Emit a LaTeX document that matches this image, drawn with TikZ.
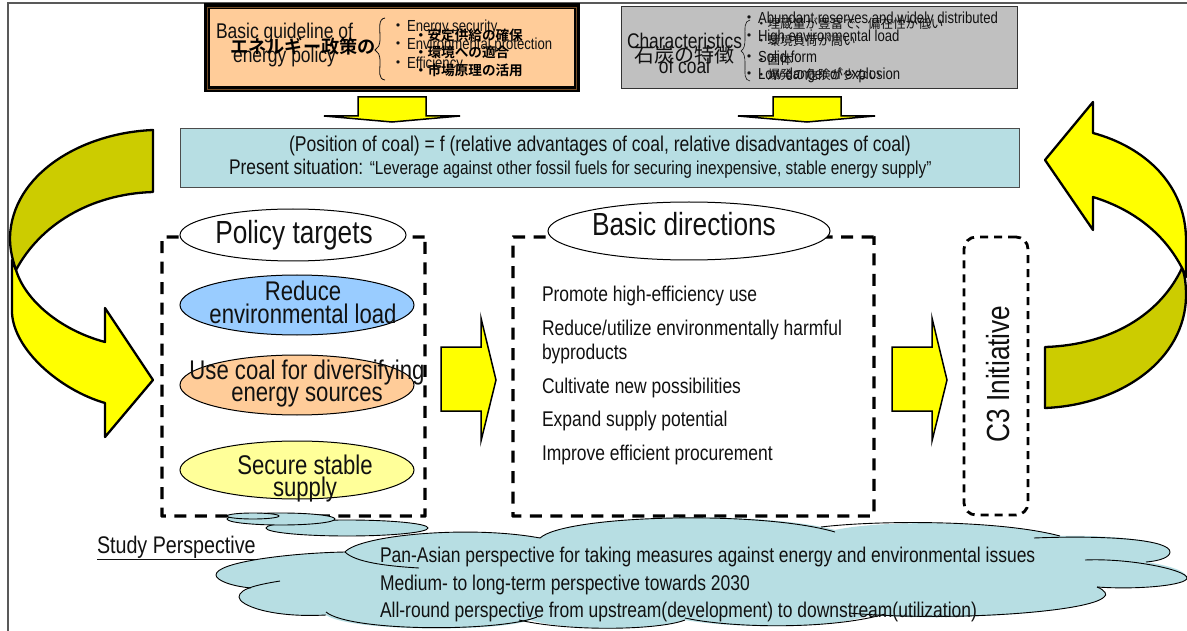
\documentclass[tikz,border=0pt]{standalone}
\usepackage{fontspec}
\setmainfont{Liberation Sans}[FakeStretch=0.82]
\newfontfamily\cjkb{Noto Sans CJK JP Bold}
\newfontfamily\cjkr{Noto Sans CJK JP}
\newcommand{\fs}[1]{\fontsize{#1}{#1}\selectfont}
\newcommand{\dotl}{\llap{{\cjkr ・}\hspace{1pt}}}
\definecolor{teal1}{HTML}{B7DEE3}
\definecolor{orange1}{HTML}{FFCC99}
\definecolor{gray1}{HTML}{C0C0C0}
\definecolor{blue1}{HTML}{99CCFF}
\definecolor{ylw1}{HTML}{FFFF99}
\definecolor{ylw}{HTML}{FFFF00}
\definecolor{dark1}{HTML}{CCCC00}
\definecolor{txt}{HTML}{111111}
\tikzset{
 lbl/.style={inner sep=0pt,outer sep=0pt,text=txt},
 blockarrow/.style={draw=black,fill=ylw,line width=1.5pt,line join=miter},
 curved/.style={draw=black,line width=2.3pt,line join=round},
 dashbox/.style={draw=black,line width=3.4pt,dash pattern=on 12pt off 8.5pt,rounded corners=0.4pt},
 dashbox2/.style={draw=black,line width=2.8pt,dash pattern=on 8pt off 6pt,rounded corners=12pt},
 oval/.style={draw=black,line width=1pt},
 cloudline/.style={draw=black,line width=0.9pt},
}
\begin{document}
\begin{tikzpicture}[x=1pt,y=-1pt]
\useasboundingbox (0,0) rectangle (1187,631);
\fill[white] (0,0) rectangle (1187,631);
% frame
\draw[draw=black!65,line width=1.2pt] (8,631) -- (8,3) -- (1187,3);
% big curved arrows
\path[curved,fill=ylw] (12,260) -- (12,313) .. controls (14,350) and (60,390) .. (105,403) -- (105,437) -- (153,380) -- (105,308) -- (105,342) .. controls (60,330) and (25,300) .. (16,270) -- cycle;
\path[curved,fill=dark1] (153,130) .. controls (80,133) and (12,175) .. (10,237) .. controls (10,247) and (11,255) .. (16,270) .. controls (40,225) and (90,194) .. (153,192) -- cycle;
\path[curved,fill=ylw] (1045,160) -- (1093,102) -- (1093,133) .. controls (1145,147) and (1186,185) .. (1186,240) -- (1186,277) -- (1182,268) .. controls (1165,235) and (1135,210) .. (1093,197) -- (1093,230) -- cycle;
\path[curved,fill=dark1] (1045,347) .. controls (1110,345) and (1160,315) .. (1182,268) .. controls (1185,275) and (1186,285) .. (1186,295) .. controls (1186,360) and (1120,405) .. (1045,408) -- cycle;
% top boxes
\draw[draw=black,fill=black,line width=0pt] (204,4) rectangle (579,92);
\draw[draw=brown!60!black,fill=black,line width=0.8pt] (207,7) rectangle (576,89);
\draw[draw=black,fill=orange1,line width=1pt] (209,9) rectangle (574,87);
\draw[draw=black!80,fill=gray1,line width=1pt] (621,7) rectangle (1017,89);
% small down arrows
\path[blockarrow] (358,97) -- (426,97) -- (426,116) -- (460,116) -- (392,122) -- (324,116) -- (358,116) -- cycle;
\path[blockarrow] (773,97) -- (841,97) -- (841,116) -- (875,116) -- (807,122) -- (738,116) -- (773,116) -- cycle;
% teal box
\node[draw=black!70,fill=teal1,line width=0.8pt,minimum width=839pt,minimum height=59pt,inner sep=0pt] (pos) at (599.5,157.5) {};
\node[lbl] (t1) at (600,146) {\fs{21.4}(Position of coal) = f (relative advantages of coal, relative disadvantages of coal)};
\node[lbl,anchor=west] (t2) at (229,169) {\fs{21.2}Present situation: \fs{18.7}“Leverage against other fossil fuels for securing inexpensive, stable energy supply”};
% dashed boxes
\node[dashbox,minimum width=263pt,minimum height=279pt,inner sep=0pt] (pb) at (293.5,376.5) {};
\node[dashbox,minimum width=361pt,minimum height=279pt,inner sep=0pt] (bb) at (693.5,376.5) {};
\node[dashbox2,minimum width=64pt,minimum height=278pt,inner sep=0pt] (cb) at (996,376) {};
% block arrows
\path[blockarrow] (441,347) -- (481,347) -- (481,318) -- (496,380) -- (481,441) -- (481,411) -- (441,411) -- cycle;
\path[blockarrow] (892,347) -- (932,347) -- (932,318) -- (947,380) -- (932,441) -- (932,411) -- (892,411) -- cycle;
% ovals
\draw[oval,fill=white] (293,235) ellipse [x radius=113,y radius=26];
\draw[oval,fill=white] (689,231) ellipse [x radius=141,y radius=29];
\draw[oval,fill=blue1] (297,305) ellipse [x radius=117,y radius=30];
\draw[oval,fill=orange1] (297,385) ellipse [x radius=117,y radius=30];
\draw[oval,fill=ylw1] (297,470) ellipse [x radius=117,y radius=29];
% cloud tail
\draw[cloudline,fill=teal1] (347,528) ellipse [x radius=81,y radius=8];
\draw[cloudline,fill=teal1] (281,519) ellipse [x radius=54,y radius=6];
\draw[cloudline,fill=teal1] (253,516) ellipse [x radius=26,y radius=3];
% cloud
\fill[teal1] (345,552) .. controls (360,535) and (470,525) .. (540,538) .. controls (565,515) and (760,510) .. (835,530) .. controls (880,520) and (1000,520) .. (1060,536) .. controls (1110,535) and (1170,540) .. (1170,552) .. controls (1170,557) and (1160,561) .. (1146,562) .. controls (1165,565) and (1187,570) .. (1187,578) .. controls (1187,585) and (1140,590) .. (1097,587) .. controls (1105,590) and (1108,595) .. (1104,597) .. controls (1090,612) and (950,622) .. (870,615) .. controls (830,630) and (730,628) .. (685,620) .. controls (660,630) and (570,632) .. (530,620) .. controls (500,632) and (350,632) .. (326,615) .. controls (270,618) and (239,605) .. (239,597) .. controls (239,594) and (243,591) .. (251,588) .. controls (230,586) and (216,580) .. (216,575) .. controls (216,562) and (290,553) .. (345,552) -- cycle;
\draw[cloudline] (345,552) .. controls (360,535) and (470,525) .. (540,538);
\draw[cloudline] (419,568) .. controls (385,566) and (355,562) .. (345,552);
\draw[cloudline] (540,538) .. controls (565,515) and (760,510) .. (835,532);
\draw[cloudline] (821,527) .. controls (880,520) and (1000,520) .. (1060,536);
\draw[cloudline] (1034,538) .. controls (1110,535) and (1170,540) .. (1170,552) .. controls (1170,557) and (1160,561) .. (1146,562);
\draw[cloudline] (1085,560) .. controls (1130,558) and (1187,570) .. (1187,578) .. controls (1187,585) and (1140,590) .. (1097,587);
\draw[cloudline] (1097,587) .. controls (1105,590) and (1108,595) .. (1104,597) .. controls (1090,612) and (950,622) .. (849,613);
\draw[cloudline] (885,614) .. controls (830,630) and (730,628) .. (685,618);
\draw[cloudline] (685,620) .. controls (660,630) and (570,632) .. (519,620);
\draw[cloudline] (537,617) .. controls (500,632) and (350,632) .. (326,612);
\draw[cloudline] (326,615) .. controls (270,618) and (239,605) .. (239,597) .. controls (239,588) and (262,584) .. (280,581);
\draw[cloudline] (251,588) .. controls (230,586) and (216,580) .. (216,575) .. controls (216,562) and (290,553) .. (345,552);
% braces
\draw[line width=0.8pt,txt] (385,18) .. controls (378,19) and (380,28) .. (380,38) .. controls (380,46) and (378,48) .. (375,50) .. controls (378,52) and (380,54) .. (380,62) .. controls (380,72) and (378,79) .. (385,80);
\draw[line width=0.6pt,txt] (750,20) .. controls (744,21) and (745,28) .. (745,38) .. controls (745,46) and (744,49) .. (741,51) .. controls (744,53) and (745,56) .. (745,64) .. controls (745,74) and (744,80) .. (750,81);
% top left texts
\node[lbl] (g1) at (284.5,33) {\fs{21.3}Basic guideline of};
\node[lbl] (g2) at (284.5,57) {\fs{21.3}energy policy};
\node[lbl,text=black] (g3) at (303,46) {\fs{18.2}\cjkb エネルギー政策の};
\node[lbl,anchor=west] (e1) at (407,27) {\fs{16}\dotl Energy security};
\node[lbl,anchor=west] (e2) at (407,45) {\fs{16}\dotl Environmental protection};
\node[lbl,anchor=west] (e3) at (407,64) {\fs{16}\dotl Efficiency};
\node[lbl,anchor=west,text=black] (j1) at (414,35) {\fs{13.6}\cjkb ・安定供給の確保};
\node[lbl,anchor=west,text=black] (j2) at (414,52) {\fs{13.6}\cjkb ・環境への適合};
\node[lbl,anchor=west,text=black] (j3) at (414,70) {\fs{13.6}\cjkb ・市場原理の活用};
% top right texts
\node[lbl] (c1) at (684.5,41) {\fs{21.2}Characteristics};
\node[lbl] (c2) at (684.5,66) {\fs{21.2}of coal};
\node[lbl] (c3) at (684,55) {\fs{20}\cjkr 石炭の特徴};
\node[lbl,anchor=west] (r1) at (758,19) {\fs{16}\dotl Abundant reserves and widely distributed};
\node[lbl,anchor=west] (r2) at (758,37) {\fs{16}\dotl High environmental load};
\node[lbl,anchor=west] (r3) at (758,57) {\fs{16}\dotl Solid form};
\node[lbl,anchor=west] (r4) at (758,75) {\fs{16}\dotl Low danger of explosion};
\node[lbl,anchor=west] (k1) at (755,24) {\fs{12.6}\cjkr ・埋蔵量が豊富で、偏在性が低い};
\node[lbl,anchor=west] (k2) at (755,41) {\fs{12.6}\cjkr ・環境負荷が高い};
\node[lbl,anchor=west] (k3) at (755,60) {\fs{12.6}\cjkr ・固体};
\node[lbl,anchor=west] (k4) at (755,75) {\fs{12.6}\cjkr ・爆発の危険が少ない};
% policy
\node[lbl] (p0) at (294,235) {\fs{32}Policy targets};
\node[lbl] (p1) at (303,291) {\fs{27}Reduce};
\node[lbl] (p2) at (303,314) {\fs{27}environmental load};
\node[lbl] (p3) at (307,373) {\fs{27}Use coal for diversifying};
\node[lbl] (p4) at (307,397) {\fs{27}energy sources};
\node[lbl] (p5) at (305,465) {\fs{27}Secure stable};
\node[lbl] (p6) at (305,490) {\fs{27}supply};
% basic directions
\node[lbl] (b0) at (684,224) {\fs{32}Basic directions};
\node[lbl,anchor=west] (b1) at (542,296) {\fs{21.3}Promote high-efficiency use};
\node[lbl,anchor=west] (b2) at (542,330) {\fs{21.3}Reduce/utilize environmentally harmful};
\node[lbl,anchor=west] (b3) at (542,354) {\fs{21.3}byproducts};
\node[lbl,anchor=west] (b4) at (542,388) {\fs{21.3}Cultivate new possibilities};
\node[lbl,anchor=west] (b5) at (542,421) {\fs{21.3}Expand supply potential};
\node[lbl,anchor=west] (b6) at (542,455) {\fs{21.3}Improve efficient procurement};
% C3
\node[lbl,rotate=90] (c3i) at (998,374) {\fs{32}C3 Initiative};
% cloud text
\node[lbl,anchor=west] (sp) at (97,548) {\fs{24}\underline{Study Perspective}};
\node[lbl,anchor=west] (s1) at (380,557) {\fs{21.3}Pan-Asian perspective for taking measures against energy and environmental issues};
\node[lbl,anchor=west] (s2) at (380,585) {\fs{21.3}Medium- to long-term perspective towards 2030};
\node[lbl,anchor=west] (s3) at (380,612) {\fs{21.3}All-round perspective from upstream(development) to downstream(utilization)};
\end{tikzpicture}
\end{document}
